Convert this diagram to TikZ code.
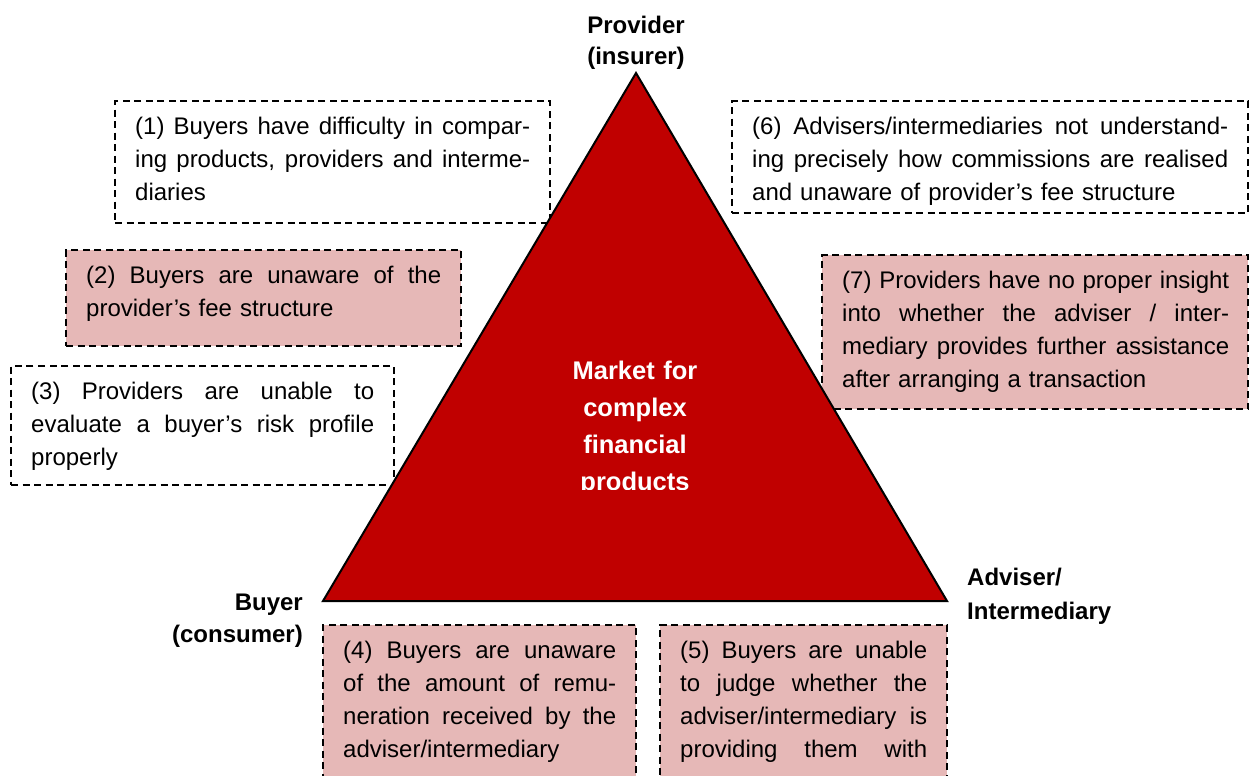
\documentclass[tikz,border=0pt]{standalone}
\usepackage{fontspec}
\setmainfont{Liberation Sans}
\definecolor{trired}{HTML}{C00000}
\definecolor{notepink}{HTML}{E6B8B7}
% a line whose interword spaces stretch to fill the text width
\newcommand\fullline[1]{\leavevmode\hbox to\hsize{\spaceskip=.278em plus 1fil\relax #1}}
% one justified line of a note, followed by a line break
\newcommand\jl[1]{\fullline{#1}\\}
\begin{document}
\begin{tikzpicture}[x=1pt,y=-1pt,
  note/.style={draw=black, line width=1.4pt, dash pattern=on 7pt off 4.5pt,
    inner sep=0pt, outer sep=0pt, anchor=north west},
  plainnote/.style={note, fill=white},
  pinknote/.style={note, fill=notepink},
  notetext/.style={anchor=base west, inner sep=0pt, text width=#1,
    font=\fontsize{24}{33}\selectfont},
  corner/.style={inner sep=0pt, text width=200pt,
    font=\bfseries\fontsize{24}{32}\selectfont}
]
\useasboundingbox (0,0) rectangle (1250,776);
\clip (0,0) rectangle (1250,776);

% dashed note frames
\node[plainnote, minimum width=435pt, minimum height=122pt] (b1) at (115,101) {};
\node[pinknote,  minimum width=395pt, minimum height=96pt]  (b2) at (66,250) {};
\node[plainnote, minimum width=383pt, minimum height=119pt] (b3) at (11,366) {};
\node[plainnote, minimum width=516pt, minimum height=112pt] (b6) at (732,101) {};
\node[pinknote,  minimum width=426pt, minimum height=154pt] (b7) at (822,255) {};
\node[pinknote,  minimum width=313pt, minimum height=180pt] (b4) at (323,625) {};
\node[pinknote,  minimum width=287pt, minimum height=180pt] (b5) at (660,625) {};

% note texts
\node[notetext=395pt] (t1) at (135,134) {%
  \jl{(1) Buyers have difficulty in compar-}%
  \jl{ing products, providers and interme-}%
  diaries};
\node[notetext=355pt] (t2) at (86,283) {%
  \jl{(2) Buyers are unaware of the}%
  provider’s fee structure};
\node[notetext=343pt] (t3) at (31,399) {%
  \jl{(3) Providers are unable to}%
  \jl{evaluate a buyer’s risk profile}%
  properly};
\node[notetext=476pt] (t6) at (752,134) {%
  \jl{(6) Advisers/intermediaries not understand-}%
  \jl{ing precisely how commissions are realised}%
  and unaware of provider’s fee structure};
\node[notetext=387pt] (t7) at (842,288) {%
  \jl{(7) Providers have no proper insight}%
  \jl{into whether the adviser / inter-}%
  \jl{mediary provides further assistance}%
  after arranging a transaction};
\node[notetext=273pt] (t4) at (343,658) {%
  \jl{(4) Buyers are unaware}%
  \jl{of the amount of remu-}%
  \jl{neration received by the}%
  adviser/intermediary};
\node[notetext=247pt] (t5) at (680,658) {%
  \jl{(5) Buyers are unable}%
  \jl{to judge whether the}%
  \jl{adviser/intermediary is}%
  \fullline{providing them with}};

% market triangle
\coordinate (apex) at (636,73);
\coordinate (bl) at (323,601);
\coordinate (br) at (947,601);
\draw[fill=trired, line width=2pt, line join=miter] (apex) -- (bl) -- (br) -- cycle;

\begin{scope}
  \clip (520,340) rectangle (750,489);
  \node[anchor=base, inner sep=0pt, text width=220pt, align=center, text=white,
    font=\bfseries\fontsize{25.5}{37}\selectfont] (market) at (635,379)
    {Market for\\complex\\financial\\products};
\end{scope}

% corner labels
\node[corner, align=center, anchor=base] (provider) at (636,34)
  {Provider\\[-1pt](insurer)};
\node[corner, align=right, anchor=base east] (buyer) at (303,610)
  {Buyer\\(consumer)};
\node[corner, align=left, anchor=base west] (adviser) at (967,585)
  {Adviser/\\[2pt]Intermediary};
\end{tikzpicture}
\end{document}
